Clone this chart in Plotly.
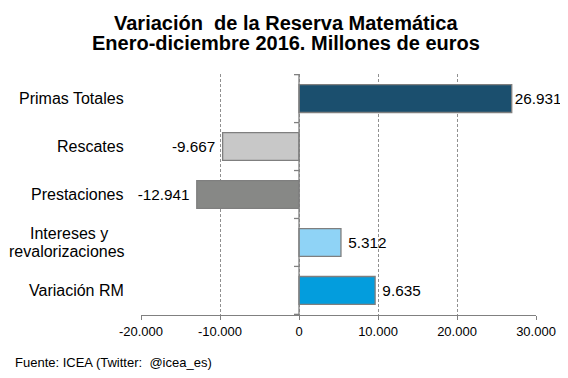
import plotly.graph_objects as go

categories = ["Primas Totales", "Rescates", "Prestaciones", "Intereses y<br>revalorizaciones", "Variación RM"]
values = [26931, -9667, -12941, 5312, 9635]
colors = ["#1b4f6e", "#c8c8c8", "#878886", "#8fd3f6", "#039ddd"]
tick_vals = [-20000, -10000, 0, 10000, 20000, 30000]
tick_text = ["-20.000", "-10.000", "0", "10.000", "20.000", "30.000"]

FONT = "Liberation Sans, Arial, sans-serif"

# styling: extra gap between bar end and value label
label_pad = ["", " ", " ", " ", " "]


def fmt(v):
    return f"{v:,}".replace(",", ".")


texts = []
for v, p in zip(values, label_pad):
    texts.append(p + fmt(v) if v >= 0 else fmt(v) + p)

fig = go.Figure(go.Bar(
    y=categories, x=values, orientation="h",
    marker=dict(color=colors, line=dict(color="#7f7f7f", width=1.3)),
    width=0.58,
    text=texts,
    textposition="outside", cliponaxis=False,
    textfont=dict(family=FONT, size=15.3, color="#000000"),
))

shapes = [dict(type="line", xref="x", yref="paper", x0=0, x1=0, y0=0, y1=1,
               line=dict(color="#808080", width=1.3))]
for k in range(len(categories) + 1):
    shapes.append(dict(type="line", xref="x", yref="y", xsizemode="pixel", xanchor=0,
                       x0=-5, x1=0, y0=k - 0.5, y1=k - 0.5,
                       line=dict(color="#808080", width=1.3)))

annotations = []
cat_font = dict(family=FONT, size=16, color="#000000")
for c in categories:
    lines = c.split("<br>")
    if len(lines) == 1:
        annotations.append(dict(text=c, xref="paper", yref="y", x=0, y=c, xshift=-15,
                                xanchor="right", yanchor="middle", showarrow=False, font=cat_font))
    else:
        # two-line label: lines centred on each other, block right-aligned
        annotations.append(dict(text=lines[0], xref="paper", yref="y", x=0, y=c, xshift=-72.5,
                                yshift=8.9, xanchor="center", yanchor="middle", showarrow=False,
                                font=cat_font))
        annotations.append(dict(text=lines[1], xref="paper", yref="y", x=0, y=c, xshift=-14,
                                yshift=-8.9, xanchor="right", yanchor="middle", showarrow=False,
                                font=cat_font))

title_x = (279 - 133) / 397
annotations += [
    dict(text="<b>Variación  de la Reserva Matemática</b>", xref="paper", yref="paper",
         x=title_x, y=1, yshift=51, xanchor="center", yanchor="middle",
         showarrow=False, font=dict(family=FONT, size=20, color="#000000")),
    dict(text="<b>Enero-diciembre 2016. Millones de euros</b>", xref="paper", yref="paper",
         x=title_x, y=1, yshift=31.5, xanchor="center", yanchor="middle",
         showarrow=False, font=dict(family=FONT, size=20, color="#000000")),
    dict(text="Fuente: ICEA (Twitter:  @icea_es)", xref="paper", yref="paper",
         x=0, xshift=-128, y=0, yshift=-47, xanchor="left", yanchor="middle",
         showarrow=False, font=dict(family=FONT, size=13, color="#000000")),
]

fig.update_layout(
    width=560, height=370,
    margin=dict(l=133, r=30, t=66, b=63),
    paper_bgcolor="white", plot_bgcolor="white",
    separators=",.",
    showlegend=False,
    xaxis=dict(range=[-20000, 30000], tickvals=tick_vals, ticktext=tick_text,
               showgrid=True, gridcolor="#909090", griddash="3px,2px", gridwidth=1,
               zeroline=False, showline=True, linecolor="#808080", linewidth=1.3,
               ticks="outside", ticklen=4, tickcolor="#808080",
               tickfont=dict(family=FONT, size=13, color="#000000"), fixedrange=True),
    yaxis=dict(autorange="reversed", showgrid=False, zeroline=False, showline=False,
               ticks="", showticklabels=False),
    shapes=shapes,
    annotations=annotations,
)

fig.write_html("out.html")
